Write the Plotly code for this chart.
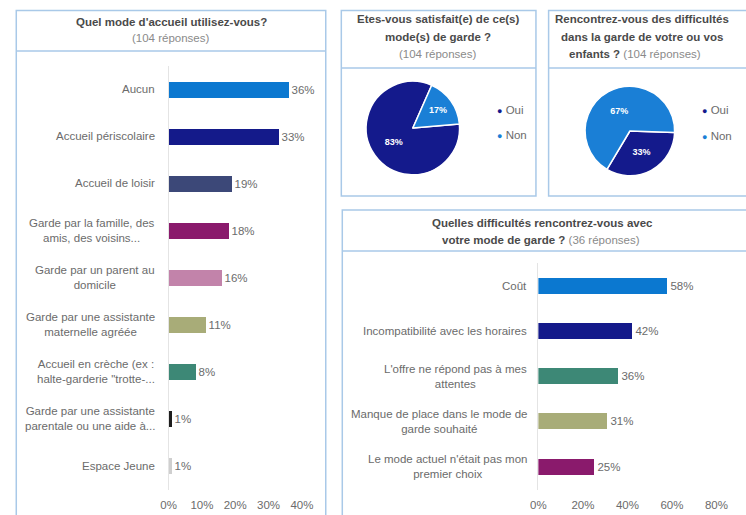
import plotly.graph_objects as go

W, H = 746, 515

# ---------------- data ----------------
mode_labels = [
    "Aucun",
    "Accueil périscolaire",
    "Accueil de loisir",
    "Garde par la famille, des<br>amis, des voisins...",
    "Garde par un parent au<br>domicile",
    "Garde par une assistante<br>maternelle agréée",
    "Accueil en crèche (ex :<br>halte-garderie \"trotte-...",
    "Garde par une assistante<br>parentale ou une aide à...",
    "Espace Jeune",
]
mode_values = [36, 33, 19, 18, 16, 11, 8, 1, 1]
mode_colors = ["#0b78d0", "#141a8a", "#3c4878", "#8a1a6c", "#c283aa",
               "#a8ac78", "#3d8876", "#1e1e1e", "#cfcfcf"]

satis_labels = ["Oui", "Non"]
satis_values = [83, 17]

diff_yesno_labels = ["Oui", "Non"]
diff_yesno_values = [33, 67]

pie_colors = ["#141a8c", "#1a7fd6"]

diff_labels = [
    "Coût",
    "Incompatibilité avec les horaires",
    "L'offre ne répond pas à mes<br>attentes",
    "Manque de place dans le mode de<br>garde souhaité",
    "Le mode actuel n'était pas mon<br>premier choix",
]
diff_values = [58, 42, 36, 31, 25]
diff_colors = ["#0b78d0", "#141a8a", "#3d8876", "#a8ac78", "#8a1a6c"]

left_ticks = [0, 10, 20, 30, 40]
left_ticktext = ["0%", "10%", "20%", "30%", "40%"]
right_ticks = [0, 20, 40, 60, 80]
right_ticktext = ["0%", "20%", "40%", "60%", "80%"]

# ---------------- helpers ----------------
def px(x):
    return x / W

def py(y):
    return 1 - y / H

FONT = "Liberation Sans, Arial, sans-serif"
GREY = "#6b6b6b"
TITLE = "#4a4a4a"
SUB = "#8a8a8a"
BORDER = "#a9c9e8"
TS = 11.5   # title size
LS = 11.5   # label size

fig = go.Figure()

# left bar chart
fig.add_trace(go.Bar(
    x=mode_values, y=mode_labels, orientation="h",
    marker=dict(color=mode_colors, line=dict(width=0)),
    width=0.34,
    text=[f"{v}%" for v in mode_values], textposition="outside",
    textfont=dict(color=GREY, size=LS, family=FONT),
    cliponaxis=False, xaxis="x", yaxis="y", showlegend=False,
))

# bottom-right bar chart
fig.add_trace(go.Bar(
    x=diff_values, y=diff_labels, orientation="h",
    marker=dict(color=diff_colors, line=dict(width=0)),
    width=0.35,
    text=[f"{v}%" for v in diff_values], textposition="outside",
    textfont=dict(color=GREY, size=LS, family=FONT),
    cliponaxis=False, xaxis="x2", yaxis="y2", showlegend=False,
))

# pies
fig.add_trace(go.Pie(
    labels=satis_labels, values=satis_values, sort=False,
    direction="clockwise", rotation=85,
    marker=dict(colors=pie_colors, line=dict(color="white", width=1.5)),
    texttemplate="%{percent:.0%}", textposition="inside",
    insidetextorientation="horizontal",
    textfont=dict(color="white", size=9, family=FONT, weight="bold"),
    domain=dict(x=[px(368), px(464)], y=[py(176), py(80)]),
    showlegend=False,
))
fig.add_trace(go.Pie(
    labels=diff_yesno_labels, values=diff_yesno_values, sort=False,
    direction="clockwise", rotation=92,
    marker=dict(colors=pie_colors, line=dict(color="white", width=1.5)),
    texttemplate="%{percent:.0%}", textposition="inside",
    insidetextorientation="horizontal",
    textfont=dict(color="white", size=9, family=FONT, weight="bold"),
    domain=dict(x=[px(593), px(685)], y=[py(177), py(85)]),
    showlegend=False,
))

annotations = []
# y labels (centered multi-line)
for lab in mode_labels:
    annotations.append(dict(xref="paper", yref="y", x=px(153), y=lab, text=lab,
                            xanchor="right", yanchor="middle", align="center",
                            showarrow=False, font=dict(color=GREY, size=LS, family=FONT)))
for lab in diff_labels:
    annotations.append(dict(xref="paper", yref="y2", x=px(535), y=lab, text=lab,
                            xanchor="right", yanchor="middle", align="center",
                            showarrow=False, font=dict(color=GREY, size=LS, family=FONT)))

def title_line(x, y, text, bold=True, color=TITLE, size=TS):
    annotations.append(dict(xref="paper", yref="paper", x=px(x), y=py(y), text=text,
                            xanchor="center", yanchor="middle", showarrow=False,
                            font=dict(color=color, size=size, family=FONT,
                                      weight="bold" if bold else "normal")))

title_line(168, 22, "Quel mode d'accueil utilisez-vous?")
title_line(168, 38, "(104 réponses)", bold=False, color=SUB)
title_line(442, 19, "Etes-vous satisfait(e) de ce(s)")
title_line(442, 37, "mode(s) de garde ?")
title_line(442, 54, "(104 réponses)", bold=False, color=SUB)
title_line(651, 19, "Rencontrez-vous des difficultés")
title_line(651, 37, "dans la garde de votre ou vos")
annotations.append(dict(xref="paper", yref="paper", x=px(644), y=py(54),
                        text=f"<b>enfants ?</b> <span style='color:{SUB}'>(104 réponses)</span>",
                        xanchor="center", yanchor="middle", showarrow=False,
                        font=dict(color=TITLE, size=TS, family=FONT)))
title_line(549, 223, "Quelles difficultés rencontrez-vous avec")
annotations.append(dict(xref="paper", yref="paper", x=px(548), y=py(240),
                        text=f"<b>votre mode de garde ?</b> <span style='color:{SUB}'>(36 réponses)</span>",
                        xanchor="center", yanchor="middle", showarrow=False,
                        font=dict(color=TITLE, size=TS, family=FONT)))

# pie legends
def legend(x, y, label, color):
    annotations.append(dict(xref="paper", yref="paper", x=px(x), y=py(y),
                            text=f"<span style='color:{color};font-size:9px'>●</span> {label}",
                            xanchor="left", yanchor="middle", showarrow=False,
                            font=dict(color=GREY, size=LS, family=FONT)))

for i, lab in enumerate(satis_labels):
    legend(500, 110 + 25 * i, lab, pie_colors[i])
for i, lab in enumerate(diff_yesno_labels):
    legend(711, 110 + 26 * i, lab, pie_colors[i])

# panel boxes
shapes = []
def box(x0, y0, x1, y1):
    shapes.append(dict(type="rect", xref="paper", yref="paper",
                       x0=px(x0), x1=px(x1), y0=py(y1), y1=py(y0),
                       line=dict(color=BORDER, width=1.5), fillcolor="rgba(0,0,0,0)"))
def hline(x0, x1, y):
    shapes.append(dict(type="line", xref="paper", yref="paper",
                       x0=px(x0), x1=px(x1), y0=py(y), y1=py(y),
                       line=dict(color=BORDER, width=1.5)))

box(8.5, 10.5, 326.5, 530)
hline(8.5, 326.5, 51)
box(342.5, 10.5, 542.5, 196)
hline(342.5, 542.5, 68)
box(555.5, 10.5, 770, 196)
hline(555.5, 770, 68)
box(343.5, 210, 770, 530)
hline(343.5, 770, 251)

axis_font = dict(color=GREY, size=LS, family=FONT)
fig.update_layout(
    width=W, height=H,
    margin=dict(l=0, r=0, t=0, b=0),
    paper_bgcolor="white", plot_bgcolor="white",
    bargap=0,
    xaxis=dict(domain=[px(165), px(302)], range=[0, 40], tickmode="array",
               tickvals=left_ticks, ticktext=left_ticktext,
               showgrid=False, zeroline=False, showline=False,
               ticks="outside", ticklen=5, tickcolor="rgba(0,0,0,0)",
               tickfont=axis_font, anchor="y"),
    yaxis=dict(domain=[py(489.5), py(65.5)], autorange="reversed",
               showticklabels=False, showgrid=False, zeroline=False,
               showline=True, linecolor="#e4e4e4", linewidth=1, anchor="x"),
    xaxis2=dict(domain=[px(545), px(728)], range=[0, 80], tickmode="array",
                tickvals=right_ticks, ticktext=right_ticktext,
                showgrid=False, zeroline=False, showline=False,
                ticks="outside", ticklen=5, tickcolor="rgba(0,0,0,0)",
                tickfont=axis_font, anchor="y2"),
    yaxis2=dict(domain=[py(489.6), py(263.4)], autorange="reversed",
                showticklabels=False, showgrid=False, zeroline=False,
                showline=True, linecolor="#e4e4e4", linewidth=1, anchor="x2"),
    annotations=annotations,
    shapes=shapes,
)

fig.write_html("out.html",
               config={"displayModeBar": False},
               post_script="document.body.style.margin='0';document.body.style.overflow='hidden';")
